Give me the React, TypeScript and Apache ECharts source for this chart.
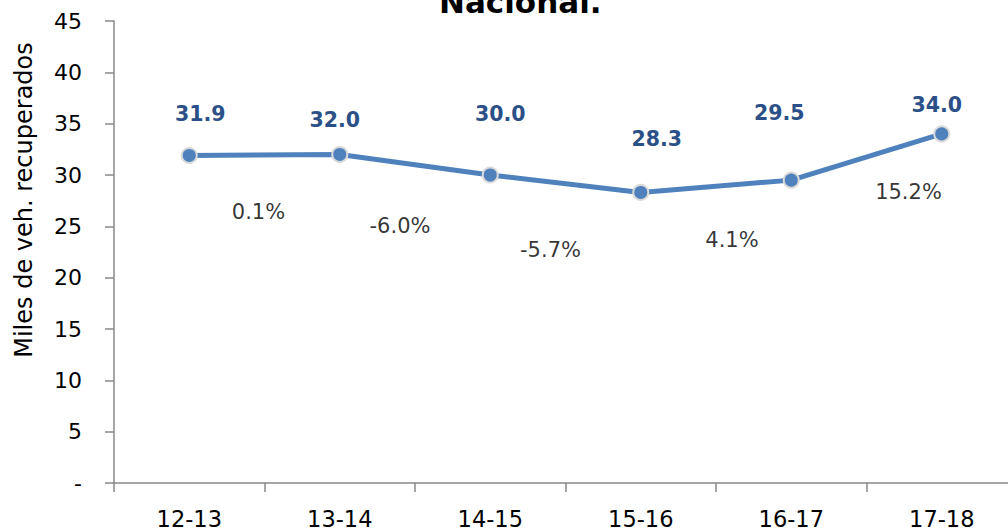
import React, { useEffect, useRef } from "react";
import * as echarts from "echarts";

const categories = ["12-13", "13-14", "14-15", "15-16", "16-17", "17-18"];
const recovered = [31.9, 32.0, 30.0, 28.3, 29.5, 34.0];
const pctChange = ["0.1%", "-6.0%", "-5.7%", "4.1%", "15.2%"];

// label layout nudges (pixels)
const valueLabelNudge = [
  [11, -41],
  [-5, -34],
  [10, -61],
  [16, -53],
  [-12, -67],
  [-5, -29],
];
const pctLabelNudge = [
  [-6, 57],
  [-15, 61],
  [-15, 66],
  [16, 54],
  [42, 35],
];

const FONT = "DejaVu Sans";

export default function App() {
  const ref = useRef<HTMLDivElement>(null);
  useEffect(() => {
    if (!ref.current) return;
    const chart = echarts.init(ref.current, null, { renderer: "svg" });
    const pctData = pctChange.map((p, i) => ({
      value: [i + 1, (recovered[i] + recovered[i + 1]) / 2],
      label: { offset: pctLabelNudge[i] },
      name: p,
    }));
    chart.setOption({
      animation: false,
      backgroundColor: "#ffffff",
      graphic: [
        {
          type: "text",
          left: 534 - 95,
          top: -14,
          style: {
            text: "Nacional.",
            font: `bold 31px ${FONT}`,
            fill: "#000",
          },
        },
        {
          type: "text",
          x: 12,
          y: 200,
          rotation: Math.PI / 2,
          style: {
            text: "Miles de veh. recuperados",
            font: `24px ${FONT}`,
            fill: "#000",
            align: "center",
            verticalAlign: "top",
          },
        },
      ],
      grid: { left: 114, right: 13, top: 21, bottom: 48 },
      xAxis: [
        {
          type: "category",
          data: categories,
          boundaryGap: true,
          axisLine: { lineStyle: { color: "#898989", width: 1.5 } },
          axisTick: { show: true, length: 9, lineStyle: { color: "#898989", width: 1.5 } },
          axisLabel: { color: "#000", fontSize: 22.5, fontFamily: FONT, margin: 24 },
        },
        {
          type: "value",
          min: 0,
          max: 6,
          show: false,
        },
      ],
      yAxis: {
        type: "value",
        min: 0,
        max: 45,
        interval: 5,
        splitLine: { show: false },
        axisLine: { show: true, lineStyle: { color: "#898989", width: 1.5 } },
        axisTick: { show: true, length: 9, lineStyle: { color: "#898989", width: 1.5 } },
        axisLabel: {
          color: "#000",
          fontSize: 22,
          fontFamily: FONT,
          margin: 32,
          formatter: (v: number) => (v === 0 ? "-" : String(v)),
        },
      },
      series: [
        {
          type: "line",
          xAxisIndex: 0,
          data: recovered.map((v, i) => ({
            value: v,
            label: { offset: valueLabelNudge[i] },
          })),
          lineStyle: { color: "#4F81BD", width: 5 },
          itemStyle: { color: "#4F81BD", borderColor: "#D9D9D9", borderWidth: 2 },
          symbol: "circle",
          symbolSize: 15,
          label: {
            show: true,
            position: "inside",
            formatter: (p: any) => Number(p.value).toFixed(1),
            color: "#2A5087",
            fontWeight: "bold",
            fontSize: 20.5,
            fontFamily: FONT,
          },
          z: 3,
        },
        {
          type: "scatter",
          xAxisIndex: 1,
          data: pctData,
          symbolSize: 0,
          label: {
            show: true,
            position: "inside",
            formatter: (p: any) => p.name,
            color: "#000",
            fontSize: 21,
            fontFamily: FONT,
          },
          z: 2,
        },
      ],
    });
    return () => chart.dispose();
  }, []);
  return (
    <div style={{ position: "fixed", left: 0, top: 0, width: 1008, height: 531, overflow: "hidden", background: "#fff" }}>
      <div ref={ref} style={{ width: 1030, height: 531 }} />
    </div>
  );
}
